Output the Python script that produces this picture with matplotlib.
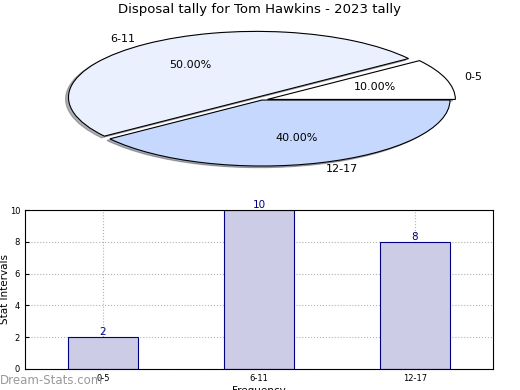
import matplotlib
matplotlib.use("Agg")
import matplotlib.pyplot as plt
import numpy as np

# Daten
categories = ["0-5", "6-11", "12-17"]
counts = [2, 10, 8]
pie_colors = ["#ffffff", "#eaf0fe", "#c6d8fe"]
explode = [0.03, 0.05, 0.0]

fig = plt.figure(figsize=(5.2, 3.9), dpi=100)
fig.text(0.5, 1 - 10 / 390, "Disposal tally for Tom Hawkins - 2023 tally",
         ha="center", va="center", fontsize=9.5)

# Kreisdiagramm (gestaucht)
ax_pie = fig.add_axes([27 / 520, 0.532, 470 / 520, 0.423])
wedges, texts, autotexts = ax_pie.pie(
    counts, labels=categories, colors=pie_colors, explode=explode,
    autopct="%1.2f%%", startangle=0,
    shadow={"ox": -0.011, "oy": -0.018, "shade": 0.6},
    wedgeprops=dict(edgecolor="black", linewidth=0.8),
    textprops=dict(fontsize=8))
ax_pie.set_aspect("auto")
ax_pie.set_xlim(-1.25, 1.25)
ax_pie.set_ylim(-1.25, 1.25)
ax_pie.axis("off")

# Balkendiagramm
ax = fig.add_axes([25 / 520, 21 / 390, 468 / 520, 159 / 390])
x = np.arange(len(categories))
bars = ax.bar(x, counts, width=0.45, color="#cccce6", edgecolor="navy", linewidth=0.8, zorder=2)
for rect, v in zip(bars, counts):
    ax.text(rect.get_x() + rect.get_width() / 2, v, str(v), ha="center", va="bottom",
            color="navy", fontsize=7.5, zorder=3)
ax.set_xlim(-0.5, 2.5)
ax.set_ylim(0, 10)
ax.set_xticks(x)
ax.set_xticklabels(categories)
ax.set_yticks([0, 2, 4, 6, 8, 10])
ax.tick_params(direction="in", labelsize=6, length=3)
ax.grid(True, linestyle=":", color="gray", alpha=0.6, zorder=0)
ax.set_ylabel("Stat Intervals", fontsize=7.5)
ax.yaxis.set_label_coords(-0.031, 0.5)
ax.set_xlabel("Frequency", fontsize=7.5, labelpad=2)

fig.text(0.0, 10 / 390, "Dream-Stats.com", ha="left", va="center", fontsize=8.5, color="#999999")

plt.savefig("out.png", dpi=100)
